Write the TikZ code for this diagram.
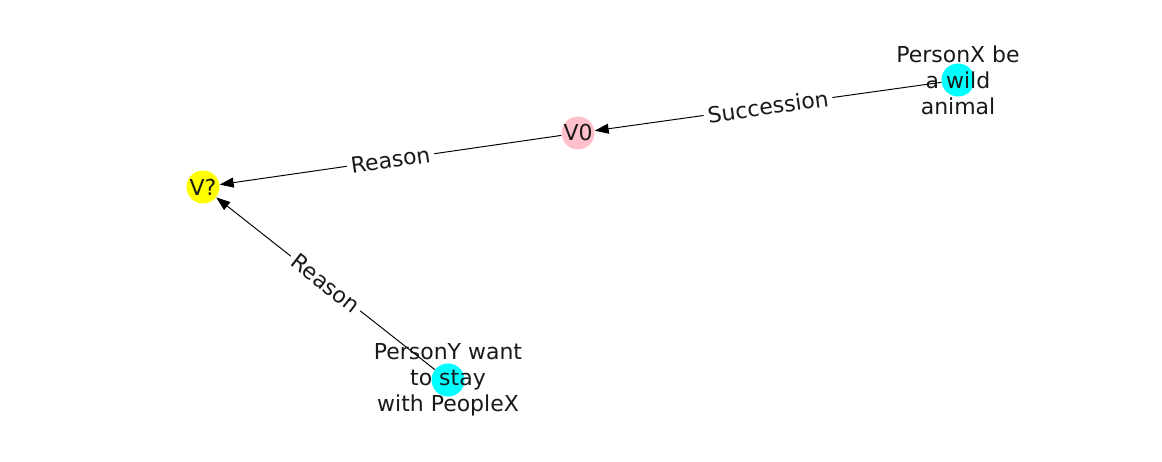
\documentclass[tikz,border=0pt]{standalone}
\usepackage{fontspec}
\setmainfont{DejaVu Sans}
\usetikzlibrary{arrows.meta}
\definecolor{nodeyellow}{RGB}{255,255,0}
\definecolor{nodepink}{RGB}{255,192,203}
\definecolor{nodecyan}{RGB}{0,255,255}

\begin{document}
\begin{tikzpicture}[x=0.02cm, y=-0.02cm,
  vertex/.style={circle, minimum size=0.66cm, inner sep=0pt},
  caption/.style={align=center, text=black!90, font=\fontsize{12.5}{14.7}\selectfont},
  relation/.style={-{Triangle[length=0.28cm, width=0.2cm]}, line width=0.55pt},
  edgelabel/.style={midway, sloped, fill=white, inner sep=0.08cm, text=black!90,
    font=\fontsize{12.5}{14.7}\selectfont}
]
  \useasboundingbox (0,0) rectangle (1162,462);
  % vertices
  \node[vertex, fill=nodeyellow] (vq) at (203,187) {};
  \node[vertex, fill=nodepink] (v0) at (578,133) {};
  \node[vertex, fill=nodecyan] (px) at (958,80) {};
  \node[vertex, fill=nodecyan] (py) at (448,380) {};
  % relations
  \draw[relation] (px) -- node[edgelabel] (succ) {Succession} (v0);
  \draw[relation] (v0) -- node[edgelabel] (reasontop) {Reason} (vq);
  \draw[relation] (py) -- node[edgelabel] (reasonlow) {Reason} (vq);
  % captions
  \node[caption] (vqtext) at (vq) {V?};
  \node[caption] (v0text) at (v0) {V0};
  \node[caption] (pxtext) at (px) {PersonX be\\a wild\\animal};
  \node[caption] (pytext) at (py) {PersonY want\\to stay\\with PeopleX};
\end{tikzpicture}
\end{document}
